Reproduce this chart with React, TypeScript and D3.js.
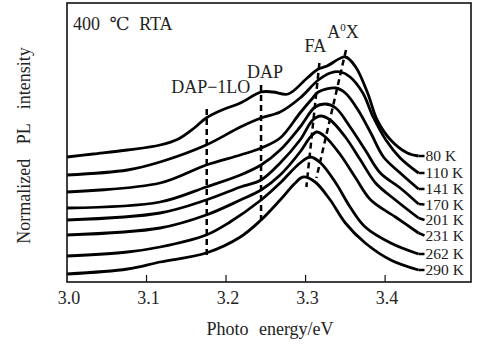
import React from 'react';
import * as d3 from 'd3';

// PL spectra (energy in eV, offset intensity in a.u.)
const temps = ['80 K', '110 K', '141 K', '170 K', '201 K', '231 K', '262 K', '290 K'];

const s80 = [[3.0, 125], [3.033, 128], [3.076, 132], [3.117, 137], [3.14, 143], [3.16, 154], [3.175, 164], [3.195, 172], [3.218, 179], [3.244, 190], [3.259, 190], [3.278, 188], [3.302, 204], [3.316, 213], [3.327, 216], [3.35, 225], [3.363, 215], [3.378, 189], [3.39, 162], [3.407, 142], [3.428, 129], [3.442, 126]];
const s110 = [[3.0, 107], [3.076, 112], [3.117, 120], [3.175, 137], [3.218, 155], [3.244, 164], [3.268, 170], [3.293, 184], [3.316, 202], [3.331, 209], [3.344, 210], [3.356, 205], [3.372, 189], [3.385, 165], [3.401, 142], [3.419, 124], [3.442, 109]];
const s141 = [[3.0, 90], [3.117, 99], [3.175, 117], [3.218, 127], [3.244, 134], [3.268, 144], [3.293, 169], [3.309, 184], [3.316, 190], [3.338, 194], [3.35, 189], [3.366, 172], [3.382, 149], [3.398, 125], [3.419, 109], [3.442, 93]];
const s170 = [[3.0, 74], [3.117, 80], [3.175, 95], [3.218, 107], [3.244, 117], [3.268, 132], [3.293, 155], [3.312, 175], [3.325, 178], [3.338, 174], [3.356, 155], [3.375, 132], [3.394, 109], [3.419, 94], [3.442, 78]];
const s201 = [[3.0, 62], [3.117, 69], [3.175, 82], [3.218, 95], [3.244, 102], [3.268, 119], [3.293, 142], [3.309, 162], [3.319, 166], [3.331, 162], [3.35, 145], [3.369, 122], [3.388, 99], [3.413, 82], [3.442, 64]];
const s231 = [[3.0, 47], [3.117, 54], [3.175, 67], [3.218, 82], [3.244, 92], [3.268, 107], [3.293, 130], [3.306, 145], [3.314, 150], [3.325, 145], [3.344, 127], [3.363, 104], [3.382, 82], [3.413, 65], [3.442, 49]];
const s262 = [[3.0, 26], [3.076, 30], [3.117, 35], [3.175, 47], [3.205, 60], [3.244, 82], [3.268, 99], [3.293, 119], [3.306, 125], [3.319, 119], [3.338, 99], [3.356, 75], [3.375, 55], [3.407, 39], [3.442, 28]];
const s290 = [[3.0, 8], [3.076, 13], [3.117, 20], [3.175, 29], [3.218, 45], [3.244, 62], [3.268, 82], [3.287, 99], [3.297, 105], [3.312, 100], [3.331, 82], [3.35, 59], [3.375, 39], [3.407, 22], [3.442, 12]];
const spectra = [s80, s110, s141, s170, s201, s231, s262, s290];

// peak marker lines: [label, E top, I top, E bottom, I bottom]
const markers = [
  ['DAP-1LO', 3.1757, 173, 3.1757, 27],
  ['DAP', 3.244, 197, 3.244, 59],
  ['FA', 3.3174, 219, 3.301, 95],
  ['A0X', 3.3508, 232, 3.3136, 104],
];

const xTicks = [3.0, 3.1, 3.2, 3.3, 3.4];

export default function App() {
  const width = 479;
  const height = 348;
  const margin = { top: 3, right: 8, bottom: 66, left: 67 };

  const x = d3.scaleLinear().domain([3.0, 3.508]).range([margin.left, width - margin.right]);
  const y = d3.scaleLinear().domain([0, 279]).range([height - margin.bottom, margin.top]);

  const line = d3.line<number[]>()
    .x((d) => x(d[0]))
    .y((d) => y(d[1]))
    .curve(d3.curveCatmullRom.alpha(0.5));

  const font = '"Liberation Serif", "DejaVu Serif", serif';
  const bottom = height - margin.bottom;

  // label positions: curve ends, pushed apart so they don't collide
  const labelY: number[] = [];
  spectra.forEach((s, i) => {
    const ly = y(s[s.length - 1][1]);
    labelY.push(i > 0 ? Math.max(ly, labelY[i - 1] + 15.5) : ly);
  });

  return (
    <svg width={width} height={height} style={{ position: 'absolute', left: 0, top: 0, background: '#fff' }}
      fontFamily={font} fill="#222">
      {spectra.map((s, i) => (
        <path key={i} d={line(s) || ''} fill="none" stroke="#000" strokeWidth={2.8} strokeLinejoin="round" />
      ))}
      {spectra.map((s, i) => {
        const last = s[s.length - 1];
        return (
          <g key={'t' + i}>
            <line x1={x(last[0])} x2={x(last[0]) + 6} y1={y(last[1])} y2={labelY[i]} stroke="#000" strokeWidth={2.5} />
            <text x={x(last[0]) + 7} y={labelY[i]} dy="0.35em" fontSize={15.5}>{temps[i]}</text>
          </g>
        );
      })}
      {markers.map((m) => (
        <line key={m[0] as string} x1={x(m[1] as number)} y1={y(m[2] as number)} x2={x(m[3] as number)} y2={y(m[4] as number)}
          stroke="#000" strokeWidth={2.5} strokeDasharray="6 4" />
      ))}
      <text x={x(3.1757) + 4} y={93} textAnchor="middle" fontSize={18}>DAP−1LO</text>
      <text x={x(3.244) + 4} y={78} textAnchor="middle" fontSize={18}>DAP</text>
      <text x={x(3.3174) - 4} y={52} textAnchor="middle" fontSize={18}>FA</text>
      <text x={x(3.3508) - 3} y={38} textAnchor="middle" fontSize={18}>A<tspan dy={-7} fontSize={11}>0</tspan><tspan dy={7}>X</tspan></text>
      <text x={73} y={30} fontSize={18} wordSpacing={5}>400 ℃ RTA</text>

      <rect x={margin.left} y={margin.top} width={width - margin.left - margin.right} height={bottom - margin.top}
        fill="none" stroke="#111" strokeWidth={1.6} />
      {xTicks.map((t) => (
        <g key={t}>
          {t > 3.0 && <line x1={x(t)} x2={x(t)} y1={bottom} y2={bottom - 7} stroke="#111" strokeWidth={1.2} />}
          <text x={x(t) + 2} y={bottom + 22} textAnchor="middle" fontSize={18}>{t.toFixed(1)}</text>
        </g>
      ))}
      <text x={270} y={335} textAnchor="middle" fontSize={18} wordSpacing={6}>Photo energy/eV</text>
      <text transform={`translate(30,${(margin.top + bottom) / 2 + 3}) rotate(-90)`} textAnchor="middle" fontSize={18}
        wordSpacing={10}>Normalized PL intensity</text>
    </svg>
  );
}
